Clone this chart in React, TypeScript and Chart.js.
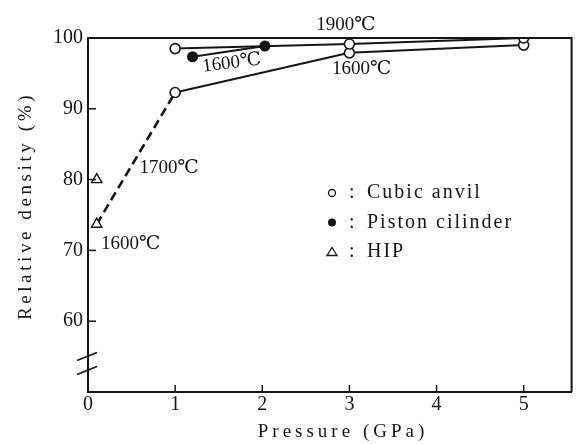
import React, { useEffect, useRef } from "react";
import { Chart, registerables } from "chart.js";

Chart.register(...registerables);

// ---- data ----
const pressureTicks = [0, 1, 2, 3, 4, 5];
const densityTicks = [60, 70, 80, 90, 100];

const cubic1900X = [1, 3, 5];
const cubic1900Y = [98.5, 99.15, 100];
const cubic1600X = [1, 3, 5];
const cubic1600Y = [92.3, 97.9, 99.0];
const pistonX = [1.2, 2.03];
const pistonY = [97.35, 98.87];
const hipX = [0.1, 0.1];
const hipY = [80, 73.7];
const dashedX = [0.1, 1];
const dashedY = [73.7, 92.3];

const tempLabels = ["1900℃", "1600℃", "1600℃", "1700℃", "1600℃"];
const tempLabelX = [2.96, 1.65, 3.14, 0.93, 0.49];
const tempLabelY = [101.8, 96.45, 95.6, 81.6, 70.9];
const tempLabelRot = [0, -7, 0, 0, 0];

const legendLabels = ["Cubic anvil", "Piston cilinder", "HIP"];
const breakValues = [55.0, 53.05];

const xTitle = "Pressure (GPa)";
const yTitle = "Relative density (%)";

const INK = "#151515";
const SERIF = "'Liberation Serif', 'DejaVu Serif', serif";

const pts = (xs: number[], ys: number[]) => xs.map((x, i) => ({ x, y: ys[i] }));

const decorPlugin = {
  id: "decor",
  afterDraw(chart: any) {
    const { ctx, chartArea } = chart;
    const xs = chart.scales.x;
    const ys = chart.scales.y;
    const { left, right, top, bottom } = chartArea;
    ctx.save();
    ctx.strokeStyle = INK;
    ctx.fillStyle = INK;

    // top and right frame
    ctx.lineWidth = 2;
    ctx.beginPath();
    ctx.moveTo(left, top);
    ctx.lineTo(right, top);
    ctx.lineTo(right, bottom);
    ctx.stroke();

    // inward ticks
    ctx.lineWidth = 1.5;
    densityTicks.forEach((v) => {
      if (v >= 100) return;
      const py = ys.getPixelForValue(v);
      ctx.beginPath();
      ctx.moveTo(left, py);
      ctx.lineTo(left + 8, py);
      ctx.stroke();
    });
    pressureTicks.forEach((v) => {
      if (v === 0) return;
      const px = xs.getPixelForValue(v);
      ctx.beginPath();
      ctx.moveTo(px, bottom);
      ctx.lineTo(px, bottom - 7);
      ctx.stroke();
    });

    // x tick labels
    ctx.font = `20px ${SERIF}`;
    ctx.textAlign = "center";
    ctx.textBaseline = "middle";
    pressureTicks.forEach((v) => {
      ctx.fillText(String(v), xs.getPixelForValue(v), bottom + 13);
    });

    // axis break marks
    ctx.lineWidth = 1.6;
    breakValues.forEach((v) => {
      const py = ys.getPixelForValue(v);
      ctx.beginPath();
      ctx.moveTo(left - 11, py + 4);
      ctx.lineTo(left + 9, py - 4);
      ctx.stroke();
    });

    // temperature labels
    ctx.font = `19px ${SERIF}`;
    tempLabels.forEach((t, i) => {
      const px = xs.getPixelForValue(tempLabelX[i]);
      const py = ys.getPixelForValue(tempLabelY[i]);
      ctx.save();
      ctx.translate(px, py);
      ctx.rotate((tempLabelRot[i] * Math.PI) / 180);
      ctx.fillText(t, 0, 0);
      ctx.restore();
    });

    // legend
    const lx = left + 244;
    const ly0 = top + 155;
    const gap = 29.5;
    ctx.textAlign = "left";
    ctx.font = `20px ${SERIF}`;
    (ctx as any).letterSpacing = "2px";
    legendLabels.forEach((t, i) => {
      const y = ly0 + i * gap;
      ctx.lineWidth = 1.3;
      if (i === 0) {
        ctx.beginPath();
        ctx.arc(lx, y, 3.5, 0, Math.PI * 2);
        ctx.stroke();
      } else if (i === 1) {
        ctx.beginPath();
        ctx.arc(lx, y, 4, 0, Math.PI * 2);
        ctx.fill();
      } else {
        ctx.beginPath();
        ctx.moveTo(lx, y - 4.5);
        ctx.lineTo(lx + 5, y + 3.5);
        ctx.lineTo(lx - 5, y + 3.5);
        ctx.closePath();
        ctx.stroke();
      }
      ctx.fillText(":", lx + 17, y);
      ctx.fillText(t, lx + 35, y);
    });

    // axis titles
    ctx.font = `19px ${SERIF}`;
    ctx.textAlign = "center";
    (ctx as any).letterSpacing = "4px";
    ctx.fillText(xTitle, 343, bottom + 40);
    (ctx as any).letterSpacing = "3.6px";
    ctx.save();
    ctx.translate(26, (top + bottom) / 2 - 9);
    ctx.rotate(-Math.PI / 2);
    ctx.fillText(yTitle, 0, 0);
    ctx.restore();
    (ctx as any).letterSpacing = "0px";

    ctx.restore();
  },
};

export default function App() {
  const ref = useRef<HTMLCanvasElement | null>(null);

  useEffect(() => {
    if (!ref.current) return;
    const openCircle = {
      pointStyle: "circle",
      pointRadius: 5,
      pointBackgroundColor: "#ffffff",
      pointBorderColor: INK,
      pointBorderWidth: 1.6,
    };
    const chart = new Chart(ref.current, {
      type: "scatter",
      data: {
        datasets: [
          {
            label: "Cubic anvil 1900℃",
            data: pts(cubic1900X, cubic1900Y),
            showLine: true,
            borderColor: INK,
            borderWidth: 2,
            ...openCircle,
          } as any,
          {
            label: "Cubic anvil 1600℃",
            data: pts(cubic1600X, cubic1600Y),
            showLine: true,
            borderColor: INK,
            borderWidth: 2,
            ...openCircle,
          } as any,
          {
            label: "Piston cilinder 1600℃",
            data: pts(pistonX, pistonY),
            showLine: true,
            borderColor: INK,
            borderWidth: 2,
            pointStyle: "circle",
            pointRadius: 4.5,
            pointBackgroundColor: INK,
            pointBorderColor: INK,
          } as any,
          {
            label: "1700℃",
            data: pts(dashedX, dashedY),
            showLine: true,
            borderColor: INK,
            borderWidth: 2.6,
            borderDash: [9, 5],
            pointRadius: 0,
            order: 5,
          } as any,
          {
            label: "HIP",
            data: pts(hipX, hipY),
            showLine: false,
            pointStyle: "triangle",
            pointRadius: 6,
            pointBackgroundColor: "#ffffff",
            pointBorderColor: INK,
            pointBorderWidth: 1.4,
          } as any,
        ],
      },
      options: {
        animation: false,
        responsive: false,
        devicePixelRatio: 1,
        layout: { padding: { left: 0, right: 2, top: 38, bottom: 0 } },
        plugins: {
          legend: { display: false },
          tooltip: { enabled: false },
        },
        scales: {
          x: {
            type: "linear",
            min: 0,
            max: 5.55,
            afterBuildTicks: (s: any) => {
              s.ticks = pressureTicks.map((v) => ({ value: v }));
            },
            afterFit: (s: any) => {
              s.height = 52;
            },
            grid: { display: false, drawTicks: false },
            border: { display: true, color: INK, width: 2 },
            ticks: { display: false },
          },
          y: {
            type: "linear",
            min: 50,
            max: 100,
            afterBuildTicks: (s: any) => {
              s.ticks = densityTicks.map((v) => ({ value: v }));
            },
            afterFit: (s: any) => {
              s.width = 88;
            },
            grid: { display: false, drawTicks: false },
            border: { display: true, color: INK, width: 2 },
            ticks: {
              color: INK,
              padding: 5,
              font: { family: SERIF, size: 20 },
            },
          },
        },
      } as any,
      plugins: [decorPlugin],
    });
    return () => chart.destroy();
  }, []);

  return (
    <div
      style={{
        position: "fixed",
        left: 0,
        top: 0,
        width: 579,
        height: 444,
        background: "#ffffff",
      }}
    >
      <canvas ref={ref} width={579} height={444} style={{ display: "block" }} />
    </div>
  );
}
